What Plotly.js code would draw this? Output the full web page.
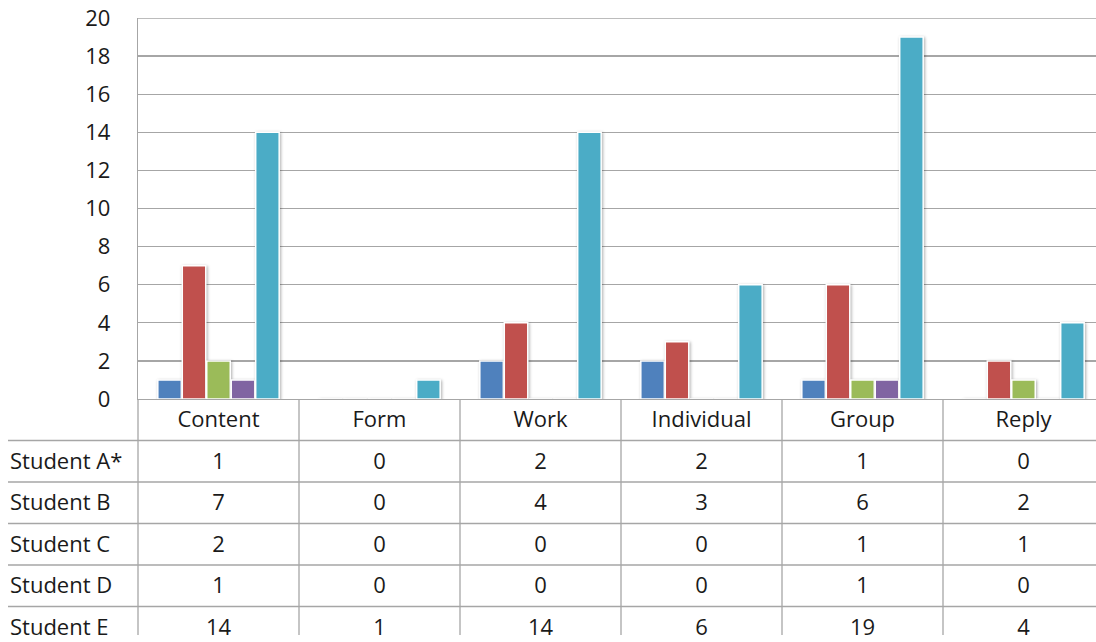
<!DOCTYPE html>
<html>
<head>
<meta charset="utf-8">
<script src="https://cdn.plot.ly/plotly-3.0.1.min.js"></script>
<style>
  html, body { margin: 0; padding: 0; background: #fff; }
  #chart { width: 1096px; height: 642px; }
  /* soft shadow behind the columns */
  .barlayer .point path { filter: drop-shadow(1px 1px 1.5px rgba(0,0,0,0.32)); }
</style>
</head>
<body>
<div id="chart"></div>
<script>
// Categories and per-student counts
const categories = ["Content", "Form", "Work", "Individual", "Group", "Reply"];
const studentNames = ["Student A*", "Student B", "Student C", "Student D", "Student E"];
const studentA = [1, 0, 2, 2, 1, 0];
const studentB = [7, 0, 4, 3, 6, 2];
const studentC = [2, 0, 0, 0, 1, 1];
const studentD = [1, 0, 0, 0, 1, 0];
const studentE = [14, 1, 14, 6, 19, 4];
const seriesValues = [studentA, studentB, studentC, studentD, studentE];
const seriesColors = ["#4F81BD", "#C0504D", "#9BBB59", "#8064A2", "#4BACC6"];
const yTicks = [0, 2, 4, 6, 8, 10, 12, 14, 16, 18, 20];

const FONT = "'Open Sans', 'Noto Sans', sans-serif";
const FONT_SIZE = 22;
const TEXT = "#1a1a1a";
const LINE = "#a6a6a6";

// Layout geometry (pixels)
const W = 1096, H = 642;
const plotLeft = 138, plotTop = 18, plotBottom = 635, axisY = 399;
const colW = 161, rowH = 41.5;
const tableLeft = 8;
const textNudge = 0.05; // rows, pushes cell text slightly down to sit centred

const plotH = plotBottom - plotTop;
const split = (plotBottom - axisY) / plotH;
const xMax = -0.5 + (W - plotLeft) / colW;
const x2Min = -0.5 - plotLeft / colW;
const y2Max = (plotBottom - axisY) / rowH;
const idx = categories.map((_, i) => i);

const traces = [];

// Clustered columns
seriesValues.forEach((vals, s) => {
  traces.push({
    type: "bar",
    name: studentNames[s],
    x: idx,
    y: vals,
    xaxis: "x", yaxis: "y",
    marker: { color: seriesColors[s], line: { color: "#ffffff", width: 1.5 } },
    hoverinfo: "none"
  });
});

const cellFont = { family: FONT, size: FONT_SIZE, color: TEXT };

// Data table: category header row
traces.push({
  type: "scatter", mode: "text",
  x: idx, y: idx.map(() => 0.5 + textNudge),
  text: categories,
  xaxis: "x2", yaxis: "y2",
  textfont: cellFont,
  textposition: "middle center",
  cliponaxis: true, hoverinfo: "none", showlegend: false
});

// Data table: one row per student
seriesValues.forEach((vals, s) => {
  traces.push({
    type: "scatter", mode: "text",
    x: idx, y: idx.map(() => s + 1.5 + textNudge),
    text: vals.map(String),
    xaxis: "x2", yaxis: "y2",
    textfont: cellFont,
    textposition: "middle center",
    cliponaxis: true, hoverinfo: "none", showlegend: false
  });
});

// Data table: row labels
traces.push({
  type: "scatter", mode: "text",
  x: studentNames.map(() => x2Min + 10 / colW),
  y: studentNames.map((_, s) => s + 1.5 + textNudge),
  text: studentNames,
  xaxis: "x2", yaxis: "y2",
  textfont: cellFont,
  textposition: "middle right",
  cliponaxis: true, hoverinfo: "none", showlegend: false
});

// Table rules and the top gridline
const shapes = [];
for (let k = 0; k <= categories.length; k++) {
  shapes.push({
    type: "line", xref: "x2", yref: "y2",
    x0: k - 0.5, x1: k - 0.5, y0: 0, y1: y2Max,
    line: { color: LINE, width: 1.3 }
  });
}
for (let r = 1; r <= studentNames.length; r++) {
  shapes.push({
    type: "line", xref: "x2", yref: "y2",
    x0: x2Min + tableLeft / colW, x1: xMax, y0: r, y1: r,
    line: { color: LINE, width: 1.3 }
  });
}
shapes.push({
  type: "line", xref: "x", yref: "y",
  x0: -0.5, x1: xMax, y0: yTicks[yTicks.length - 1], y1: yTicks[yTicks.length - 1],
  line: { color: LINE, width: 1.3 }
});

const layout = {
  width: W, height: H,
  margin: { l: 0, r: 0, t: plotTop, b: H - plotBottom, pad: 0 },
  paper_bgcolor: "#fff", plot_bgcolor: "rgba(0,0,0,0)",
  showlegend: false,
  barmode: "group",
  bargap: 0.24,
  bargroupgap: 0.04,
  font: { family: FONT, size: FONT_SIZE, color: TEXT },
  xaxis: {
    domain: [plotLeft / W, 1], anchor: "y",
    range: [-0.5, xMax],
    showticklabels: false, ticks: "", showgrid: false, zeroline: false,
    showline: true, linecolor: LINE, linewidth: 1.3
  },
  yaxis: {
    domain: [split, 1], anchor: "x",
    range: [0, 20],
    tickvals: yTicks, ticktext: yTicks.map(String),
    ticks: "", ticklabelstandoff: 22,
    tickfont: cellFont,
    showgrid: true, gridcolor: LINE, gridwidth: 1.3,
    zeroline: false,
    showline: true, linecolor: LINE, linewidth: 1.3
  },
  xaxis2: {
    domain: [0, 1], anchor: "y2",
    range: [x2Min, xMax], visible: false
  },
  yaxis2: {
    domain: [0, split], anchor: "x2",
    range: [y2Max, 0], visible: false
  },
  shapes: shapes
};

Plotly.newPlot("chart", traces, layout, { staticPlot: true, displayModeBar: false });
</script>
</body>
</html>
